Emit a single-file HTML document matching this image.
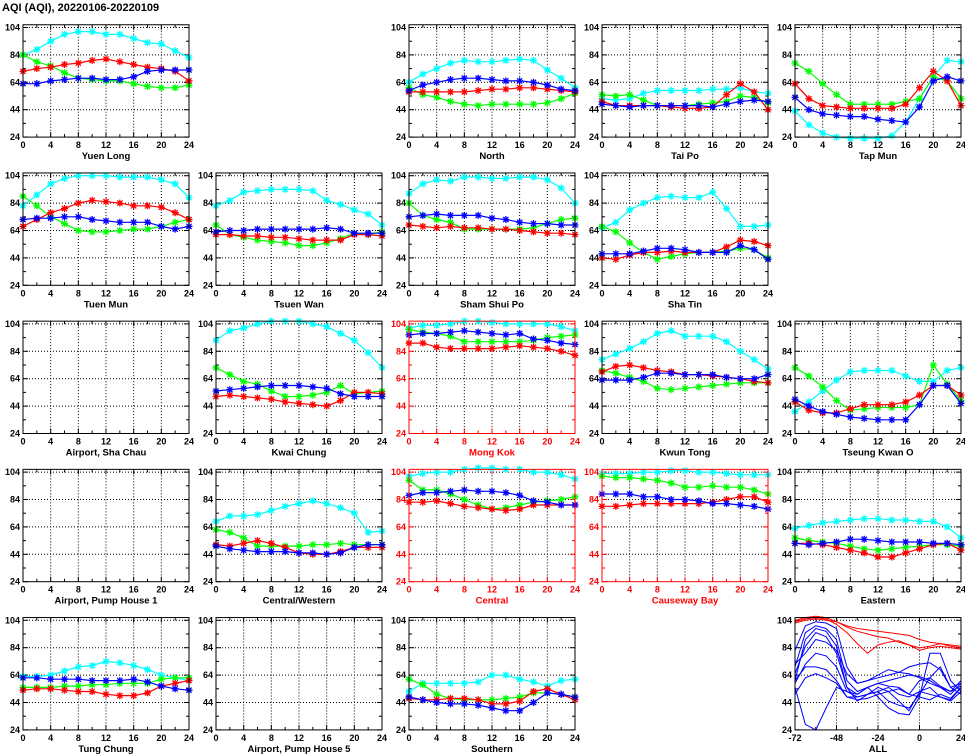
<!DOCTYPE html>
<html><head><meta charset="utf-8">
<style>
html,body{margin:0;padding:0;background:#fff;}
svg{display:block;font-family:"Liberation Sans",sans-serif;}
</style></head>
<body>
<svg id="chart" width="965" height="755" viewBox="0 0 965 755">
<text x="2" y="11" font-size="11" font-weight="bold" fill="#000">AQI (AQI), 20220106-20220109</text>
</svg>
<script>
const hours = [0,2,4,6,8,10,12,14,16,18,20,22,24];
const yTicks = [24,44,64,84,104];
const xTicks = [0,4,8,12,16,20,24];
const allHours = [-72,-66,-60,-54,-48,-42,-36,-30,-24,-18,-12,-6,0,6,12,18,24];
const allTicks = [-72,-48,-24,0,24];

const yuenLongCyan=[84,88,94,99,101,101,99,99,96,93,92,87,82];
const yuenLongGreen=[84,79,76,71,67,66,65,65,63,61,60,60,62];
const yuenLongRed=[72,74,75,77,78,80,81,79,77,75,74,72,65];
const yuenLongBlue=[63,63,65,66,67,67,66,66,68,72,73,73,73];

const northCyan=[64,70,74,78,80,79,79,80,81,80,73,67,60];
const northGreen=[60,55,53,50,48,47,48,48,48,48,49,52,56];
const northRed=[57,57,57,57,57,58,59,59,60,60,59,58,57];
const northBlue=[58,62,64,66,67,67,66,65,65,64,62,59,58];

const taiPoCyan=[52,51,52,56,58,58,58,58,59,59,60,57,56];
const taiPoGreen=[55,54,55,51,47,47,47,48,49,50,54,53,49];
const taiPoRed=[50,47,47,47,47,46,45,45,46,55,63,57,44];
const taiPoBlue=[48,47,46,47,47,47,47,47,46,48,50,51,50];

const tapMunCyan=[43,33,27,24,23,23,23,25,35,52,68,80,79];
const tapMunGreen=[78,72,63,55,48,48,48,48,50,52,68,65,52];
const tapMunRed=[63,52,47,46,45,45,45,45,48,60,72,65,47];
const tapMunBlue=[53,44,41,40,39,39,37,36,35,46,65,68,65];

const tuenMunCyan=[82,90,98,102,104,104,104,103,103,103,101,98,88];
const tuenMunGreen=[89,82,74,69,64,63,63,64,65,65,67,70,72];
const tuenMunRed=[67,72,77,80,84,86,85,84,82,82,81,77,72];
const tuenMunBlue=[72,73,73,74,74,72,71,70,70,70,67,65,67];

const tsuenWanCyan=[82,86,92,93,94,94,94,93,86,83,79,76,68];
const tsuenWanGreen=[68,61,59,57,56,55,53,53,55,58,62,61,63];
const tsuenWanRed=[61,61,60,60,59,59,58,57,57,57,61,61,60];
const tsuenWanBlue=[63,64,64,65,65,65,65,65,66,65,62,62,62];

const shamShuiPoCyan=[91,98,101,100,103,103,102,102,103,103,101,95,84];
const shamShuiPoGreen=[84,75,72,70,65,65,65,65,65,66,69,72,73];
const shamShuiPoRed=[68,67,66,67,66,66,65,65,64,63,62,62,61];
const shamShuiPoBlue=[74,75,76,75,75,75,73,72,70,69,69,68,68];

const shaTinCyan=[66,70,79,84,88,89,88,88,92,80,67,67,68];
const shaTinGreen=[67,63,55,48,43,45,47,48,48,49,51,50,44];
const shaTinRed=[44,43,46,48,48,49,48,48,48,52,57,56,53];
const shaTinBlue=[47,47,47,49,51,51,50,48,48,48,53,50,43];

const kwaiChungCyan=[92,99,101,104,106,106,106,104,102,97,92,83,72];
const kwaiChungGreen=[72,67,62,60,55,51,51,52,54,59,53,54,55];
const kwaiChungRed=[51,52,51,50,49,47,46,45,44,48,54,54,53];
const kwaiChungBlue=[55,56,57,58,59,59,59,58,57,53,51,51,51];

const mongKokCyan=[101,103,103,104,106,106,105,104,104,104,104,102,99];
const mongKokGreen=[100,98,97,95,91,91,91,91,91,92,94,95,96];
const mongKokRed=[90,90,87,86,86,86,86,87,88,87,86,84,81];
const mongKokBlue=[96,97,97,98,99,98,97,96,97,93,92,90,89];

const kwunTongCyan=[78,82,86,91,97,99,95,95,95,91,84,78,71];
const kwunTongGreen=[70,68,65,62,57,56,57,58,59,60,61,61,61];
const kwunTongRed=[69,73,74,72,70,69,67,67,66,65,64,62,61];
const kwunTongBlue=[63,63,63,65,68,68,67,67,67,65,64,64,67];

const tseungKwanOCyan=[40,47,55,63,69,70,70,70,66,62,62,70,72];
const tseungKwanOGreen=[72,66,58,48,41,42,43,43,43,45,74,60,48];
const tseungKwanORed=[47,41,39,39,42,45,45,45,47,52,59,59,52];
const tseungKwanOBlue=[49,44,40,38,36,35,34,34,34,45,59,59,46];

const centralWesternCyan=[68,72,72,73,76,79,81,83,81,78,74,60,61];
const centralWesternGreen=[62,60,56,50,50,50,50,51,51,52,51,51,51];
const centralWesternRed=[51,50,52,54,52,49,45,44,44,46,49,49,49];
const centralWesternBlue=[50,48,47,46,46,46,45,45,44,45,49,51,51];

const centralCyan=[101,103,104,104,106,107,107,106,106,104,104,102,99];
const centralGreen=[98,91,91,88,84,80,77,78,80,82,83,84,86];
const centralRed=[82,82,83,81,79,78,77,76,77,80,80,80,80];
const centralBlue=[87,89,89,90,91,90,90,89,87,83,82,80,80];

const causewayBayCyan=[103,103,103,104,104,105,105,104,104,103,102,102,102];
const causewayBayGreen=[101,100,100,99,98,96,93,93,94,93,93,91,88];
const causewayBayRed=[79,79,80,81,81,81,81,81,82,84,86,86,82];
const causewayBayBlue=[88,88,88,86,86,84,84,83,81,81,80,79,77];

const easternCyan=[63,65,67,68,69,70,70,69,69,68,68,64,56];
const easternGreen=[56,54,53,52,50,48,47,48,49,50,51,51,50];
const easternRed=[52,52,51,49,47,45,42,42,45,48,51,52,47];
const easternBlue=[52,51,52,53,55,55,54,53,53,53,52,52,51];

const tungChungCyan=[63,63,64,67,70,71,74,73,71,68,64,62,60];
const tungChungGreen=[55,55,55,56,56,57,57,58,58,58,61,62,62];
const tungChungRed=[53,54,54,53,52,52,50,49,49,51,56,58,60];
const tungChungBlue=[62,62,61,61,61,60,60,60,61,59,56,54,53];

const southernCyan=[52,58,58,58,58,59,64,64,61,59,56,60,61];
const southernGreen=[61,57,50,47,46,46,46,47,48,51,51,50,48];
const southernRed=[47,46,46,47,47,46,43,43,45,52,54,50,46];
const southernBlue=[48,46,44,43,43,42,40,38,38,44,51,50,48];

const allRed1=[104,106,107,106,103,99,96,94,92,91,88,86,84,85,87,85,84];
const allRed2=[103,105,106,105,101,95,87,80,86,88,89,86,82,84,85,84,83];
const allRed3=[102,104,105,104,103,100,98,97,96,95,94,93,90,88,87,86,85];
const allBlue1=[82,100,103,102,98,70,58,60,62,64,66,70,72,73,68,55,58];
const allBlue2=[70,95,100,98,90,60,52,55,58,60,62,64,63,60,55,52,60];
const allBlue3=[60,70,70,68,60,48,48,50,52,55,50,48,52,50,48,46,55];
const allBlue4=[55,28,24,40,55,52,50,55,58,56,55,50,60,62,56,52,56];
const allBlue5=[65,85,95,92,80,55,50,55,48,40,36,35,48,80,80,60,52];
const allBlue6=[58,72,80,78,70,52,48,50,52,45,42,40,50,62,70,55,50];
const allBlue7=[50,62,65,62,58,48,46,47,50,52,54,50,48,46,50,47,55];
const allBlue8=[72,80,90,88,82,65,58,60,64,68,66,65,62,58,55,50,58];
const allBlue9=[60,90,98,96,85,55,45,50,55,52,45,38,52,55,48,45,52];

const COLORS=['#00ffff','#00ff00','#ff0000','#0000ff'];
const panels=[
 {name:'Yuen Long',r:0,c:0,s:[yuenLongCyan,yuenLongGreen,yuenLongRed,yuenLongBlue]},
 {name:'North',r:0,c:2,s:[northCyan,northGreen,northRed,northBlue]},
 {name:'Tai Po',r:0,c:3,s:[taiPoCyan,taiPoGreen,taiPoRed,taiPoBlue]},
 {name:'Tap Mun',r:0,c:4,s:[tapMunCyan,tapMunGreen,tapMunRed,tapMunBlue]},
 {name:'Tuen Mun',r:1,c:0,s:[tuenMunCyan,tuenMunGreen,tuenMunRed,tuenMunBlue]},
 {name:'Tsuen Wan',r:1,c:1,s:[tsuenWanCyan,tsuenWanGreen,tsuenWanRed,tsuenWanBlue]},
 {name:'Sham Shui Po',r:1,c:2,s:[shamShuiPoCyan,shamShuiPoGreen,shamShuiPoRed,shamShuiPoBlue]},
 {name:'Sha Tin',r:1,c:3,s:[shaTinCyan,shaTinGreen,shaTinRed,shaTinBlue]},
 {name:'Airport, Sha Chau',r:2,c:0,s:[]},
 {name:'Kwai Chung',r:2,c:1,s:[kwaiChungCyan,kwaiChungGreen,kwaiChungRed,kwaiChungBlue]},
 {name:'Mong Kok',r:2,c:2,red:true,s:[mongKokCyan,mongKokGreen,mongKokRed,mongKokBlue]},
 {name:'Kwun Tong',r:2,c:3,s:[kwunTongCyan,kwunTongGreen,kwunTongRed,kwunTongBlue]},
 {name:'Tseung Kwan O',r:2,c:4,s:[tseungKwanOCyan,tseungKwanOGreen,tseungKwanORed,tseungKwanOBlue]},
 {name:'Airport, Pump House 1',r:3,c:0,s:[]},
 {name:'Central/Western',r:3,c:1,s:[centralWesternCyan,centralWesternGreen,centralWesternRed,centralWesternBlue]},
 {name:'Central',r:3,c:2,red:true,s:[centralCyan,centralGreen,centralRed,centralBlue]},
 {name:'Causeway Bay',r:3,c:3,red:true,s:[causewayBayCyan,causewayBayGreen,causewayBayRed,causewayBayBlue]},
 {name:'Eastern',r:3,c:4,s:[easternCyan,easternGreen,easternRed,easternBlue]},
 {name:'Tung Chung',r:4,c:0,s:[tungChungCyan,tungChungGreen,tungChungRed,tungChungBlue]},
 {name:'Airport, Pump House 5',r:4,c:1,s:[]},
 {name:'Southern',r:4,c:2,s:[southernCyan,southernGreen,southernRed,southernBlue]},
 {name:'ALL',r:4,c:4,all:true,s:[]}
];
const NS='http://www.w3.org/2000/svg';
const svg=document.getElementById('chart');
function mk(tag,attrs,parent){const e=document.createElementNS(NS,tag);for(const k in attrs)e.setAttribute(k,attrs[k]);(parent||svg).appendChild(e);return e;}
function slug(s){return s.toLowerCase().replace(/[^a-z0-9]+/g,'-').replace(/-$/,'');}
const W=166, YS=1.37;
panels.forEach(p=>{
  const x0=23+193*p.c+(p.c>=2?0:0), yT=27.5+148.2*p.r;
  const xmin=p.all?-72:0, xmax=24;
  const X=v=>x0+(v-xmin)/(xmax-xmin)*W;
  const Y=v=>yT+(104-v)*YS;
  const col=p.red?'#ff0000':'#000';
  const g=mk('g',{});
  
  
  const top=Y(106), bot=Y(24);
  const xt=p.all?allTicks:xTicks;
  // grid
  xt.forEach(t=>{if(t!==xmin&&t!==xmax){const l=mk('line',{x1:X(t),x2:X(t),y1:top,y2:bot,stroke:'#000','stroke-width':1,'stroke-dasharray':'1 2'},g);}});
  yTicks.forEach(t=>{if(t!==24){mk('line',{x1:x0,x2:x0+W,y1:Y(t),y2:Y(t),stroke:'#000','stroke-width':1,'stroke-dasharray':'1 2'},g);}});
  // ticks
  const minorStep=p.all?12:2;
  for(let t=xmin;t<=xmax;t+=minorStep){const L=((t-xmin)%(p.all?24:4)===0)?5:3;
    mk('line',{x1:X(t),x2:X(t),y1:bot,y2:bot-L,stroke:col},g);mk('line',{x1:X(t),x2:X(t),y1:top,y2:top+L,stroke:col},g);}
  for(let t=24;t<=104;t+=10){const L=((t-24)%20===0)?5:3;
    mk('line',{x1:x0,x2:x0+L,y1:Y(t),y2:Y(t),stroke:col},g);mk('line',{x1:x0+W,x2:x0+W-L,y1:Y(t),y2:Y(t),stroke:col},g);}
  // labels
  xt.forEach(t=>{const e=mk('text',{x:X(t),y:bot+11,'text-anchor':'middle','font-size':9,'font-weight':'bold',fill:col},g);e.textContent=t;
    
    });
  yTicks.forEach(t=>{const e=mk('text',{x:x0-3,y:Y(t)+3,'text-anchor':'end','font-size':9,'font-weight':'bold',fill:col},g);e.textContent=t;
    
    });
  const ttl=mk('text',{x:x0+W/2,y:bot+22,'text-anchor':'middle','font-size':9.5,'font-weight':'bold',fill:col},g);ttl.textContent=p.name;
  
  
  // series
  p.s.forEach((arr,i)=>{
    const c=COLORS[i];
    const pts=arr.map((v,j)=>X(hours[j]).toFixed(1)+','+Y(v).toFixed(1)).join(' ');
    const pl=mk('polyline',{points:pts,fill:'none',stroke:c,'stroke-width':1.2},g);
    
    
    let d='';
    arr.forEach((v,j)=>{const x=X(hours[j]),y=Y(v);
      d+=`M${x-3.5},${y}h7M${x},${y-3.5}v7M${x-2.6},${y-2.6}l5.2,5.2M${x-2.6},${y+2.6}l5.2,-5.2`;});
    const m=mk('path',{d:d,stroke:c,'stroke-width':1.3,fill:'none'},g);
    
    
  });
  if(p.all){
    const reds=[allRed1,allRed2,allRed3];
    const blues=[allBlue1,allBlue2,allBlue3,allBlue4,allBlue5,allBlue6,allBlue7,allBlue8,allBlue9];
    const draw=(arr,c)=>{const pts=arr.map((v,j)=>X(allHours[j]).toFixed(1)+','+Y(v).toFixed(1)).join(' ');
      const pl=mk('polyline',{points:pts,fill:'none',stroke:c,'stroke-width':1},g);
      
      };
    blues.forEach(a=>draw(a,'#0000ff'));
    reds.forEach(a=>draw(a,'#ff0000'));
  }
  const fr=mk('rect',{x:x0,y:top,width:W,height:bot-top,fill:'none',stroke:col,'stroke-width':1},g);
  
  
});
</script>
</body></html>
